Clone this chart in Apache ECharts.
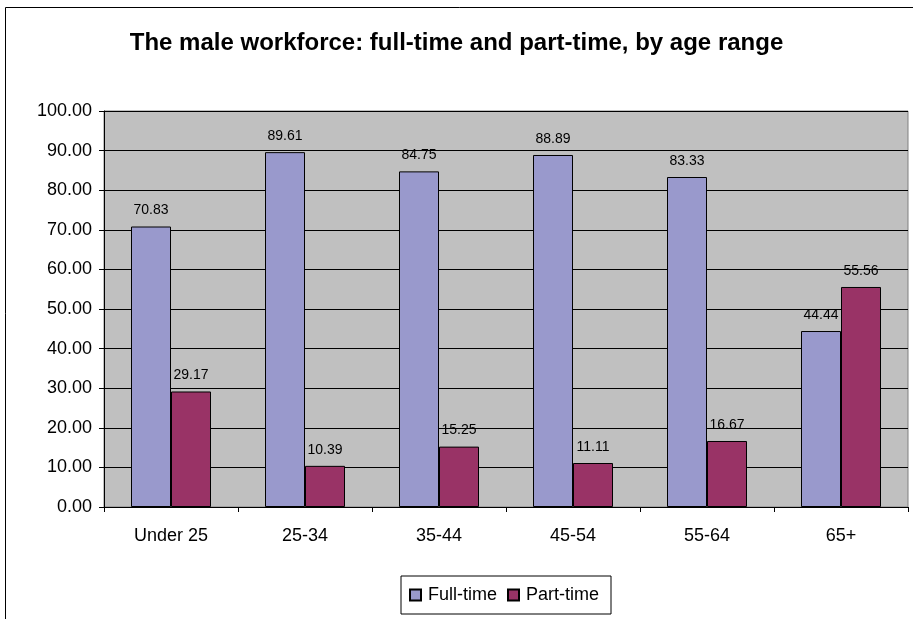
<!DOCTYPE html>
<html>
<head>
<meta charset="utf-8">
<script src="https://cdn.jsdelivr.net/npm/echarts@6/dist/echarts.min.js"></script>
<style>
  html, body { margin: 0; padding: 0; background: #fff; }
  #chart { width: 913px; height: 619px; }
</style>
</head>
<body>
<div id="chart"></div>
<script>
// Male workforce shares (%) by age range
const categories = ['Under 25', '25-34', '35-44', '45-54', '55-64', '65+'];
const fullTime = [70.83, 89.61, 84.75, 88.89, 83.33, 44.44];
const partTime = [29.17, 10.39, 15.25, 11.11, 16.67, 55.56];
const seriesNames = ['Full-time', 'Part-time'];

const FONT = '"Liberation Sans", Arial, sans-serif';

const chart = echarts.init(document.getElementById('chart'), null, { renderer: 'canvas' });

const labelStyle = {
  show: true,
  position: 'top',
  distance: 9,
  fontFamily: FONT,
  fontSize: 14,
  color: '#000',
  formatter: p => p.value.toFixed(2)
};

chart.setOption({
  animation: false,
  backgroundColor: '#fff',
  title: {
    text: 'The male workforce: full-time and part-time, by age range',
    left: 'center',
    top: 26,
    textStyle: { fontFamily: FONT, fontSize: 24, fontWeight: 'bold', color: '#000' }
  },
  graphic: [{
    type: 'rect',
    shape: { x: 5.5, y: 7.5, width: 920, height: 640 },
    style: { fill: 'none', stroke: '#000', lineWidth: 1 },
    silent: true
  }],
  legend: {
    data: seriesNames,
    bottom: 5,
    left: 401,
    itemWidth: 11,
    itemHeight: 11,
    itemGap: 10,
    padding: [10, 12, 10, 8],
    borderColor: '#000',
    borderWidth: 1,
    icon: 'rect',
    textStyle: { fontFamily: FONT, fontSize: 18, color: '#000', padding: [0, 0, 0, 2] }
  },
  grid: {
    left: 104,
    right: 5,
    top: 111,
    bottom: 112,
    show: true,
    backgroundColor: '#c0c0c0',
    borderColor: '#808080',
    borderWidth: 1
  },
  xAxis: {
    type: 'category',
    data: categories,
    axisLine: { lineStyle: { color: '#000' } },
    axisTick: { show: true, length: 5, lineStyle: { color: '#000' } },
    axisLabel: { fontFamily: FONT, fontSize: 18, color: '#000', margin: 20 }
  },
  yAxis: {
    type: 'value',
    min: 0,
    max: 100,
    interval: 10,
    axisLine: { show: true, lineStyle: { color: '#000' } },
    axisTick: { show: true, length: 5, lineStyle: { color: '#000' } },
    axisLabel: { fontFamily: FONT, fontSize: 18, color: '#000', margin: 12,
      formatter: v => v.toFixed(2) },
    splitLine: { show: true, lineStyle: { color: '#000', width: 1 } }
  },
  series: [
    {
      name: seriesNames[0],
      type: 'bar',
      data: fullTime,
      barWidth: 40,
      barGap: '0%',
      itemStyle: { color: '#9999cc', borderColor: '#000', borderWidth: 1 },
      label: labelStyle
    },
    {
      name: seriesNames[1],
      type: 'bar',
      data: partTime,
      barWidth: 40,
      barGap: '0%',
      itemStyle: { color: '#993366', borderColor: '#000', borderWidth: 1 },
      label: labelStyle
    }
  ]
});
</script>
</body>
</html>
